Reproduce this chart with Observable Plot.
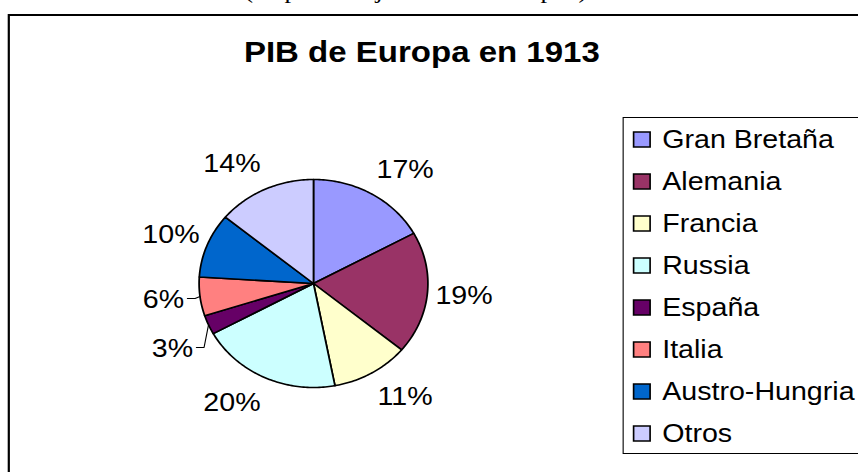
<!DOCTYPE html>
<html>
<head>
<meta charset="utf-8">
<script src="https://cdn.jsdelivr.net/npm/d3@7"></script>
<script src="https://cdn.jsdelivr.net/npm/@observablehq/plot@0.6"></script>
<style>
html,body{margin:0;padding:0;background:#fff;overflow:hidden;width:858px;height:472px;}
#wrap{position:absolute;left:0;top:0;width:780px;height:472px;transform:scaleX(1.1);transform-origin:0 0;font-family:Arial,"Liberation Sans",sans-serif;}
#sub{position:absolute;left:0;width:756px;top:-22px;text-align:center;font-family:"Times New Roman","Liberation Serif",serif;font-size:24px;line-height:24px;white-space:nowrap;color:#000;}
#frame{position:absolute;left:7px;top:14px;width:900px;height:600px;border:2px solid #000;box-sizing:border-box;}
#title{position:absolute;left:0;width:767px;top:37px;text-align:center;font-weight:bold;font-size:30px;line-height:30px;white-space:nowrap;color:#000;}
#chart{position:absolute;left:0;top:0;}
#legbox{position:absolute;left:566px;top:117px;width:300px;height:337px;border:1px solid #000;box-sizing:border-box;background:#fff;}
#legbox, #legbox *{font-family:Arial,"Liberation Sans",sans-serif !important;font-size:26px !important;color:#000 !important;}
#legbox > div{margin:0 !important;}
#legbox div{overflow:visible !important;text-overflow:clip !important;white-space:nowrap;}
#legbox .leg-swatch{height:42.1px;padding:0 !important;margin:0 0 0 9px !important;display:flex;align-items:center;}
#legbox .leg-swatch svg{width:15px;height:15px;margin-right:11px !important;overflow:visible;flex-shrink:0;}
#legbox .leg-swatch svg rect{stroke:#000;stroke-width:1.5px;}
</style>
</head>
<body>
<div id="wrap">
  <div id="sub">(en porcentaje del total europeo)</div>
  <div id="frame"></div>
  <div id="title">PIB de Europa en 1913</div>
  <div id="chart"></div>
  <div id="legbox"></div>
</div>
<script>
// ---- data ----
const names  = ["Gran Bretaña","Alemania","Francia","Russia","España","Italia","Austro-Hungria","Otros"];
const shares = [17, 19, 11, 20, 3, 6, 10, 14];
const colors = ["#9999FF","#993366","#FFFFCC","#CCFFFF","#660066","#FF8080","#0066CC","#CCCCFF"];

// ---- layout (pixels, before the horizontal 1.1 stretch) ----
const cx = 284.5, cy = 283, R = 104;
const labelFont = 26;
const labelNudgeY = {"España": 13};   // label dragged by hand in the original

const total = d3.sum(shares);
let cum = 0;
const slices = names.map((name, i) => {
  const a0 = cum / total * 2 * Math.PI;
  cum += shares[i];
  const a1 = cum / total * 2 * Math.PI;
  return {name, value: shares[i], a0, a1, mid: (a0 + a1) / 2};
});

// slice outlines (centre -> arc -> centre), in unit-radius coordinates
const outline = [];
for (const s of slices) {
  outline.push({name: s.name, x: 0, y: 0});
  const n = Math.max(2, Math.ceil((s.a1 - s.a0) / (Math.PI / 180)));
  for (let k = 0; k <= n; k++) {
    const a = s.a0 + (s.a1 - s.a0) * k / n;
    outline.push({name: s.name, x: Math.sin(a), y: -Math.cos(a)});
  }
  outline.push({name: s.name, x: 0, y: 0});
}

// labels
const textW = t => [...t].reduce((w, c) => w + (c === "%" ? 0.889 : 0.556), 0) * labelFont;
const labels = slices.map(s => {
  const sn = Math.sin(s.mid), cs = Math.cos(s.mid);
  const x = (sn * 110 + Math.sign(sn) * 27.3) / R;
  const y = (-cs * 132 + (labelNudgeY[s.name] || 0)) / R;
  return {name: s.name, text: s.value + "%", x, y};
});

// leader lines for the small slices
const leaders = [];
for (const l of labels) {
  const s = slices.find(d => d.name === l.name);
  if (s.value >= 7) continue;
  const xr = l.x + (textW(l.text) / 2 + 3) / R;
  const yl = l.y - 1.5 / R;
  leaders.push({name: l.name, x: xr, y: yl});
  leaders.push({name: l.name, x: xr + 7 / R, y: yl});
  leaders.push({name: l.name, x: Math.sin(s.mid), y: -Math.cos(s.mid)});
}

const chart = Plot.plot({
  width: 780,
  height: 472,
  margin: 0,
  x: {domain: [-1, 1], range: [cx - R, cx + R], axis: null},
  y: {domain: [-1, 1], range: [cy - R, cy + R], axis: null},
  color: {domain: names, range: colors},
  style: {background: "transparent", overflow: "visible", fontFamily: "Arial, 'Liberation Sans', sans-serif"},
  marks: [
    Plot.line(outline, {x: "x", y: "y", z: "name", fill: "name", stroke: "#000", strokeWidth: 1.6, strokeLinejoin: "round", curve: "linear"}),
    Plot.line(leaders, {x: "x", y: "y", z: "name", stroke: "#000", strokeWidth: 1, curve: "linear"}),
    Plot.text(labels, {x: "x", y: "y", text: "text", fontSize: labelFont, fill: "#000", textAnchor: "middle", lineAnchor: "middle", fontFamily: "Arial, 'Liberation Sans', sans-serif"})
  ]
});
document.getElementById("chart").appendChild(chart);

const legend = Plot.legend({
  color: {type: "ordinal", domain: names, range: colors},
  columns: 1,
  swatchSize: 15,
  className: "leg"
});
document.getElementById("legbox").appendChild(legend);
</script>
</body>
</html>
